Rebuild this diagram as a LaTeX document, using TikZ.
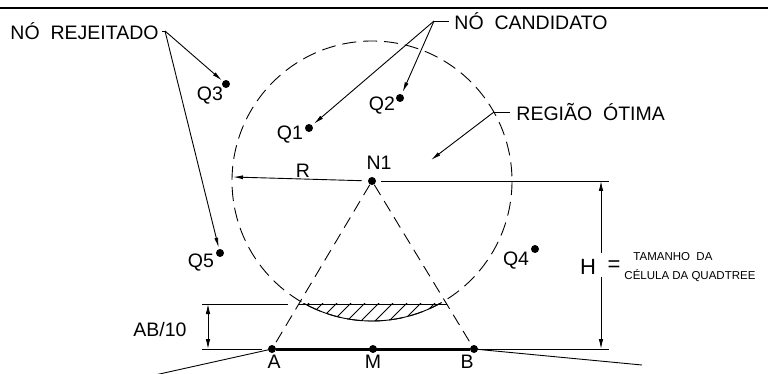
\documentclass[tikz,border=0pt]{standalone}
\usepackage{fontspec}
\setmainfont{Liberation Sans}
\usetikzlibrary{arrows.meta,calc}
\begin{document}
\begin{tikzpicture}[x=1pt,y=-1pt,line width=0.9pt,
  dot/.style={circle,fill,inner sep=0pt,minimum size=8pt},
  lbl/.style={inner sep=0pt,font=\fontsize{19.5}{21}\selectfont},
  big/.style={inner sep=0pt,font=\fontsize{22}{24}\selectfont},
  small/.style={inner sep=0pt,anchor=west,font=\fontsize{11.5}{12}\selectfont},
  arr/.style={-{Latex[length=10pt,width=4pt]}},
  dimarr/.style={-{Latex[length=10pt,width=4.5pt]}},
  dashcirc/.style={dash pattern=on 14pt off 7pt},
  dashline/.style={dash pattern=on 12pt off 7pt}]
\useasboundingbox (0,0) rectangle (768,374);
% top border
\coordinate (tl) at (0,8);
\coordinate (tr) at (768,8);
\draw[line width=2.2pt] (tl) -- (tr);
% points
\node[dot] (N1) at (372,181) {};
\node[dot] (A) at (272,349) {};
\node[dot] (M) at (373,349) {};
\node[dot] (B) at (474,349) {};
\node[dot] (Q1) at (309,128) {};
\node[dot] (Q2) at (400,98) {};
\node[dot] (Q3) at (226,84) {};
\node[dot] (Q4) at (535,249) {};
\node[dot] (Q5) at (220,253) {};
% point labels
\node[lbl] (lN1) at (379,163) {N1};
\node[lbl] (lQ1) at (290,135) {Q1};
\node[lbl] (lQ2) at (382,106) {Q2};
\node[lbl] (lQ3) at (210,96) {Q3};
\node[lbl] (lQ4) at (516,261) {Q4};
\node[lbl] (lQ5) at (201,263) {Q5};
\node[lbl] (lA) at (274,362) {A};
\node[lbl] (lM) at (373,362) {M};
\node[lbl] (lB) at (467,362) {B};
% circle
\draw[dashcirc] (N1.center) circle (140);
% triangle sides
\draw[dashline] (N1) -- (A);
\draw[dashline] (N1) -- (B);
% base
\draw[line width=3pt] (A) -- (B);
% slanted lines from A and B
\coordinate (Aend) at (155,375);
\coordinate (Bend) at (642,365);
\draw (A.center) -- (Aend);
\draw (B.center) -- (Bend);
% chord and hatched segment
\coordinate (c1) at ($(N1.center)!0.732!(A.center)$);
\coordinate (c2) at ($(N1.center)!0.732!(B.center)$);
\draw (c1) -- (c2);
\begin{scope}
  \clip (c1) rectangle (460,335);
  \draw (N1.center) circle (140);
  \clip (N1.center) circle (140);
  \foreach \x in {282,296,...,460} \draw (\x,330) -- (\x+30,300);
\end{scope}
% R radius
\coordinate (Rl) at (233,177);
\node[lbl] (lR) at (303,171) {R};
\draw[arr,shorten <=6pt] (N1) -- (Rl);
% H dimension
\coordinate (ht) at (601,181);
\coordinate (hb) at (601,349);
\coordinate (hm1) at (601,253);
\coordinate (hm2) at (601,277);
\coordinate (hte) at (609,181);
\coordinate (hbe) at (609,349);
\draw ([xshift=9pt]N1.center) -- (hte);
\draw ([xshift=4pt]B.center) -- (hbe);
\draw[dimarr] (hm1) -- (ht);
\draw[dimarr] (hm2) -- (hb);
\node[big] (lH) at (588,267) {H};
\node[big] (eq) at (614,266) {=};
\node[small] (t1) at (633,257) {TAMANHO\ \ DA};
\node[small] (t2) at (624,276) {CÉLULA\ DA\ QUADTREE};
% AB/10 dimension
\coordinate (d1) at (202,304);
\coordinate (d1e) at (288,304);
\coordinate (d2) at (202,349);
\coordinate (d2e) at (262,349);
\coordinate (dt) at (208,304);
\coordinate (db) at (208,349);
\draw (d1) -- (d1e);
\draw (d2) -- (d2e);
\draw[dimarr] ($(dt)!0.5!(db)$) -- (dt);
\draw[dimarr] ($(dt)!0.5!(db)$) -- (db);
\node[lbl] (lAB) at (160,330) {AB/10};
% callouts
\node[lbl,anchor=west] (rej) at (10,31) {NÓ\ \ REJEITADO};
\coordinate (rj) at (165,31);
\draw (rej.east) ++(3,0) -- (rj);
\draw[arr,shorten >=1pt] (rj) -- (Q3);
\draw[arr,shorten >=1pt] (rj) -- (Q5);
\node[lbl,anchor=west] (cand) at (454,21) {NÓ\ \ CANDIDATO};
\coordinate (cj) at (434,21);
\draw ([xshift=-5pt]cand.west) -- (cj);
\draw[arr,shorten >=2pt] (cj) -- (Q1);
\draw[arr,shorten >=2pt] (cj) -- (Q2);
\node[lbl,anchor=west] (reg) at (516,112) {REGIÃO\ \ ÓTIMA};
\coordinate (rg) at (494,112);
\coordinate (rgt) at (431,160);
\draw ([xshift=-6pt]reg.west) -- (rg);
\draw[arr] (rg) -- (rgt);
\end{tikzpicture}
\end{document}
